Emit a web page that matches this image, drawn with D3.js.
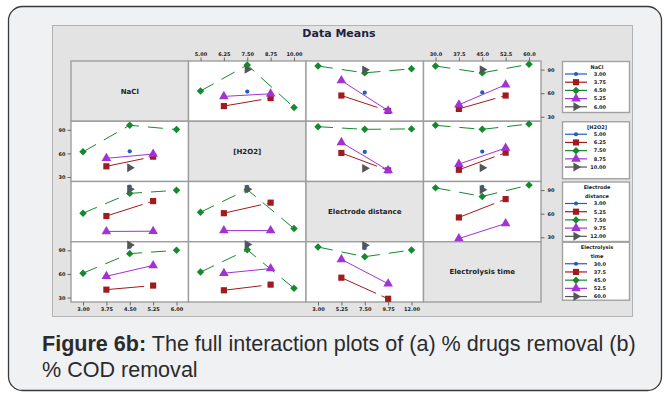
<!DOCTYPE html>
<html>
<head>
<meta charset="utf-8">
<script src="https://cdn.jsdelivr.net/npm/d3@7"></script>
<style>
  html, body { margin: 0; padding: 0; background: #ffffff; }
  svg { display: block; }
</style>
</head>
<body>
<svg id="fig" width="665" height="394"></svg>
<script>
// ---- factors, levels and tick labels ----
const factorNames = ["NaCl", "[H2O2]", "Electrode distance", "Electrolysis time"];
const legendTitles = [["NaCl"], ["[H2O2]"], ["Electrode", "distance"], ["Electrolysis", "time"]];

const naclLevels = [3.00, 3.75, 4.50, 5.25, 6.00];
const h2o2Levels = [5.00, 6.25, 7.50, 8.75, 10.00];
const distanceLevels = [3.00, 5.25, 7.50, 9.75, 12.00];
const timeLevels = [30.0, 37.5, 45.0, 52.5, 60.0];

const naclTicks = ["3.00", "3.75", "4.50", "5.25", "6.00"];
const h2o2Ticks = ["5.00", "6.25", "7.50", "8.75", "10.00"];
const distanceTicks = ["3.00", "5.25", "7.50", "9.75", "12.00"];
const timeTicks = ["30.0", "37.5", "45.0", "52.5", "60.0"];
const meanTicks = [30, 60, 90];

// ---- cell means (rows: level of first factor, columns: level of second factor) ----
const meansNaClH2O2 = [
  [null, null, 62.0, null, null],
  [null, 43.6, null, 53.8, null],
  [62.7, null, 95.8, null, 41.8],
  [null, 55.9, null, 59.2, null],
  [null, null, 90.3, null, null]
];
const meansNaClDistance = [
  [null, null, 60.6, null, null],
  [null, 57.0, null, 37.4, null],
  [94.5, null, 85.8, null, 91.0],
  [null, 76.0, null, 37.7, null],
  [null, null, 89.7, null, null]
];
const meansNaClTime = [
  [null, null, 61.0, null, null],
  [null, 40.0, null, 57.0, null],
  [94.5, null, 85.8, null, 96.8],
  [null, 45.2, null, 70.8, null],
  [null, null, 90.0, null, null]
];
const meansH2O2Distance = [
  [null, null, 61.9, null, null],
  [null, 60.6, null, 38.5, null],
  [94.0, null, 90.6, null, 91.2],
  [null, 74.0, null, 38.5, null],
  [null, null, 41.0, null, null]
];
const meansH2O2Time = [
  [null, null, 62.3, null, null],
  [null, 39.2, null, 60.9, null],
  [95.7, null, 90.6, null, 97.4],
  [null, 46.4, null, 66.8, null],
  [null, null, 41.7, null, null]
];
const meansDistanceTime = [
  [null, null, 94.2, null, null],
  [null, 55.2, null, 78.5, null],
  [92.8, null, 81.9, null, 96.3],
  [null, 28.4, null, 47.5, null],
  [null, null, 90.4, null, null]
];

// ---- lookup helpers ----
const levelsByFactor = [naclLevels, h2o2Levels, distanceLevels, timeLevels];
const ticksByFactor = [naclTicks, h2o2Ticks, distanceTicks, timeTicks];
const pairTables = {
  "01": meansNaClH2O2, "02": meansNaClDistance, "03": meansNaClTime,
  "12": meansH2O2Distance, "13": meansH2O2Time, "23": meansDistanceTime
};
// mean response with factor `lineF` at level a and factor `xF` at level b
function cellMean(lineF, xF, a, b) {
  return lineF < xF ? pairTables[`${lineF}${xF}`][a][b]
                    : pairTables[`${xF}${lineF}`][b][a];
}

// ---- series styling ----
const seriesColors = ["#1f5fc0", "#a01b1d", "#148a2e", "#a232d4", "#555555"];
const seriesDash = [null, "38,6", "15,9", null, null];
const seriesSymbols = [d3.symbolCircle, d3.symbolSquare, d3.symbolSquare, d3.symbolTriangle, d3.symbolTriangle];
const seriesRotate = [0, 0, 45, 0, 90];
const seriesSizes = [14, 38, 28, 40, 34];

// ---- layout ----
const svg = d3.select("#fig");
const gridLeft = 71, gridTop = 61, cellW = 117.5, cellH = 60.25;
const tickFont = "DejaVu Sans, Verdana, sans-serif";

// card
svg.append("rect")
  .attr("x", 8.5).attr("y", 6.5).attr("width", 653).attr("height", 384).attr("rx", 14)
  .attr("fill", "#f0f1f3").attr("stroke", "#3a3a3a").attr("stroke-width", 1.3);

// chart plate
svg.append("rect")
  .attr("x", 52.5).attr("y", 25.5).attr("width", 580).attr("height", 291)
  .attr("fill", "#e3e3e3").attr("stroke", "#b2b2b2").attr("stroke-width", 1);

svg.append("text")
  .attr("x", 339).attr("y", 36.5).attr("text-anchor", "middle")
  .attr("font-family", tickFont).attr("font-weight", "bold").attr("font-size", 11)
  .attr("fill", "#1c2340").text("Data Means");

// scales
const xScales = levelsByFactor.map((lv, j) =>
  d3.scaleLinear().domain(d3.extent(lv))
    .range([gridLeft + j * cellW + 12, gridLeft + (j + 1) * cellW - 12]));
const yScales = d3.range(4).map(i =>
  d3.scaleLinear().domain([24.3, 100.9])
    .range([gridTop + (i + 1) * cellH, gridTop + i * cellH]));

// panels
for (let i = 0; i < 4; i++) {
  for (let j = 0; j < 4; j++) {
    const x0 = gridLeft + j * cellW, y0 = gridTop + i * cellH;
    svg.append("rect")
      .attr("x", x0).attr("y", y0).attr("width", cellW).attr("height", cellH)
      .attr("fill", i === j ? "#e5e5e5" : "#ffffff")
      .attr("stroke", "#9e9e9e").attr("stroke-width", 1.4);
    if (i === j) {
      svg.append("text")
        .attr("x", x0 + cellW / 2).attr("y", y0 + cellH / 2 + 2.5)
        .attr("text-anchor", "middle")
        .attr("font-family", tickFont).attr("font-weight", "bold").attr("font-size", 7)
        .attr("fill", "#222").text(factorNames[i]);
    }
  }
}

// interaction lines and markers
const line = d3.line().x(d => d.x).y(d => d.y);
for (let i = 0; i < 4; i++) {
  for (let j = 0; j < 4; j++) {
    if (i === j) continue;
    const g = svg.append("g");
    for (let k = 0; k < 5; k++) {
      const pts = levelsByFactor[j].map((lv, b) => ({ lv, v: cellMean(i, j, k, b) }))
        .filter(p => p.v !== null)
        .map(p => ({ x: xScales[j](p.lv), y: yScales[i](p.v) }));
      if (pts.length > 1) {
        g.append("path").attr("d", line(pts))
          .attr("fill", "none").attr("stroke", seriesColors[k]).attr("stroke-width", 1)
          .attr("stroke-dasharray", seriesDash[k]);
      }
      g.selectAll(null).data(pts).enter().append("path")
        .attr("d", d3.symbol().type(seriesSymbols[k]).size(seriesSizes[k]))
        .attr("transform", d => `translate(${d.x},${d.y}) rotate(${seriesRotate[k]})`)
        .attr("fill", seriesColors[k]);
    }
  }
}

// axes
function styleAxis(g) {
  g.select(".domain").remove();
  g.selectAll(".tick line").attr("stroke", "#6a6a6a");
  g.selectAll(".tick text")
    .attr("font-family", tickFont).attr("font-size", 5).attr("font-weight", "bold")
    .attr("fill", "#222");
}
[1, 3].forEach(j => {
  svg.append("g").attr("transform", `translate(0,${gridTop})`)
    .call(d3.axisTop(xScales[j]).tickValues(levelsByFactor[j])
      .tickFormat((d, n) => ticksByFactor[j][n]).tickSize(3.5).tickPadding(1.5))
    .call(styleAxis);
});
[0, 2].forEach(j => {
  svg.append("g").attr("transform", `translate(0,${gridTop + 4 * cellH})`)
    .call(d3.axisBottom(xScales[j]).tickValues(levelsByFactor[j])
      .tickFormat((d, n) => ticksByFactor[j][n]).tickSize(3.5).tickPadding(1.8))
    .call(styleAxis);
});
[1, 3].forEach(i => {
  svg.append("g").attr("transform", `translate(${gridLeft},0)`)
    .call(d3.axisLeft(yScales[i]).tickValues(meanTicks).tickSize(3.5).tickPadding(2))
    .call(styleAxis);
});
[0, 2].forEach(i => {
  svg.append("g").attr("transform", `translate(${gridLeft + 4 * cellW},0)`)
    .call(d3.axisRight(yScales[i]).tickValues(meanTicks).tickSize(3.5).tickPadding(3))
    .call(styleAxis);
});

// legends, one per row factor
const legendHeights = [51, 57, 59.5, 58];
for (let i = 0; i < 4; i++) {
  const top = gridTop + i * cellH;
  const lg = svg.append("g");
  lg.append("rect").attr("x", 562.5).attr("y", top + 0.5).attr("width", 67)
    .attr("height", legendHeights[i])
    .attr("fill", "#ffffff").attr("stroke", "#a2a2a2").attr("stroke-width", 1.4);
  const titles = legendTitles[i];
  titles.forEach((t, n) => {
    lg.append("text").attr("x", 597).attr("y", top + 7.5 + n * 8.5)
      .attr("text-anchor", "middle")
      .attr("font-family", tickFont).attr("font-weight", "bold").attr("font-size", 5)
      .attr("fill", "#222").text(t);
  });
  const firstY = top + (titles.length === 1 ? 13 : 22);
  for (let k = 0; k < 5; k++) {
    const cy = firstY + k * 8.2;
    lg.append("line").attr("x1", 565).attr("x2", 587).attr("y1", cy).attr("y2", cy)
      .attr("stroke", seriesColors[k]).attr("stroke-width", 1.2);
    lg.append("path")
      .attr("d", d3.symbol().type(seriesSymbols[k]).size(seriesSizes[k]))
      .attr("transform", `translate(576,${cy}) rotate(${seriesRotate[k]})`)
      .attr("fill", seriesColors[k]);
    lg.append("text").attr("x", 606).attr("y", cy + 1.8).attr("text-anchor", "end")
      .attr("font-family", tickFont).attr("font-weight", "bold").attr("font-size", 5)
      .attr("fill", "#222").text(ticksByFactor[i][k]);
  }
}

// caption
const cap = svg.append("g")
  .attr("font-family", "Liberation Sans, Arial, sans-serif").attr("fill", "#2b2b2b");
const line1 = cap.append("text").attr("x", 42).attr("y", 351).attr("font-size", 19);
line1.append("tspan").attr("font-weight", "bold").text("Figure 6b:");
line1.append("tspan").text(" The full interaction plots of (a) % drugs removal (b)");
const w1 = line1.node().getComputedTextLength();
const capSize = 19 * 594 / w1;
line1.attr("font-size", capSize);
cap.append("text").attr("x", 42).attr("y", 377).attr("font-size", capSize)
  .text("% COD removal");
</script>
</body>
</html>
